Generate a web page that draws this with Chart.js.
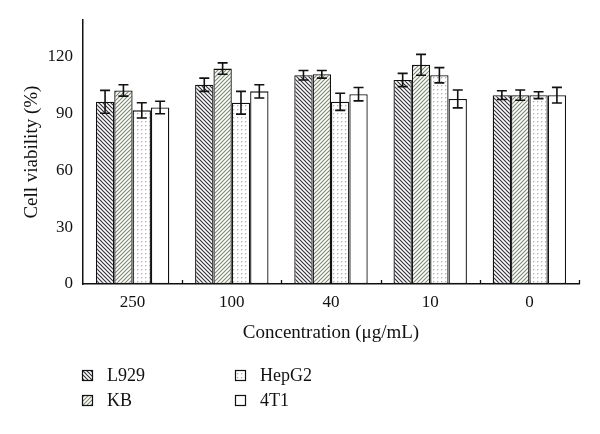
<!DOCTYPE html>
<html lang="en">
<head>
    <meta charset="UTF-8">
    <title>Cell viability</title>
    <script src="https://cdn.jsdelivr.net/npm/chart.js"></script>
    <style>
        body {
            margin: 0;
            background-color: #ffffff;
        }
        #chart {
            display: block;
        }
    </style>
</head>
<body>
    <canvas id="chart" width="600" height="434"></canvas>
    <script>
        // concentrations (ug/mL)
        var categories = ['250', '100', '40', '10', '0'];
        var seriesNames = ['L929', 'KB', 'HepG2', '4T1'];

        var l929 = [96, 105, 110, 107.5, 99.5];
        var kb = [102, 113.5, 110.5, 115.5, 99.5];
        var hepg2 = [91.5, 95.5, 96, 110, 99.5];
        var t41 = [93, 101.5, 100, 97.5, 99.5];

        var l929Err = [6, 3.5, 2.5, 3.5, 2.3];
        var kbErr = [3, 3, 2, 5.5, 2.7];
        var hepg2Err = [4, 6, 4.5, 4, 1.8];
        var t41Err = [3.3, 3.5, 3.5, 4.7, 4.1];

        var yTicks = [0, 30, 60, 90, 120];

        var serif = "'Liberation Serif', 'DejaVu Serif', serif";

        function makePattern(kind) {
            var c = document.createElement('canvas');
            c.width = 4;
            c.height = 4;
            var g = c.getContext('2d');
            g.fillStyle = '#ffffff';
            g.fillRect(0, 0, 4, 4);
            if (kind === 'back') {
                g.strokeStyle = '#37323c';
                g.lineWidth = 1.2;
                g.beginPath();
                g.moveTo(-1, -1); g.lineTo(5, 5);
                g.moveTo(-1, 3); g.lineTo(1, 5);
                g.moveTo(3, -1); g.lineTo(5, 1);
                g.stroke();
            } else if (kind === 'fwd') {
                g.strokeStyle = '#7c8870';
                g.lineWidth = 1.1;
                g.beginPath();
                g.moveTo(-1, 5); g.lineTo(5, -1);
                g.moveTo(-1, 1); g.lineTo(1, -1);
                g.moveTo(3, 5); g.lineTo(5, 3);
                g.stroke();
            } else if (kind === 'dots') {
                g.fillStyle = '#b9aab6';
                g.fillRect(1, 1, 1.3, 1.3);
            }
            return g.createPattern(c, 'repeat');
        }

        var fills = [makePattern('back'), makePattern('fwd'), makePattern('dots'), '#ffffff'];
        var values = [l929, kb, hepg2, t41];
        var errors = [l929Err, kbErr, hepg2Err, t41Err];

        var errorBars = {
            id: 'errorBars',
            afterDatasetsDraw: function (chart) {
                var ctx = chart.ctx;
                var y = chart.scales.y;
                ctx.save();
                ctx.strokeStyle = '#111111';
                ctx.lineWidth = 1.6;
                chart.data.datasets.forEach(function (ds, di) {
                    var meta = chart.getDatasetMeta(di);
                    meta.data.forEach(function (bar, i) {
                        var v = ds.data[i];
                        var e = errors[di][i];
                        var top = y.getPixelForValue(v + e);
                        var bot = y.getPixelForValue(v - e);
                        ctx.beginPath();
                        ctx.moveTo(bar.x, top);
                        ctx.lineTo(bar.x, bot);
                        ctx.moveTo(bar.x - 5, top);
                        ctx.lineTo(bar.x + 5, top);
                        ctx.moveTo(bar.x - 5, bot);
                        ctx.lineTo(bar.x + 5, bot);
                        ctx.stroke();
                    });
                });

                // small inward ticks at the category boundaries
                var x = chart.scales.x;
                var half = (x.getPixelForValue(1) - x.getPixelForValue(0)) / 2;
                var base = y.getPixelForValue(0);
                ctx.lineWidth = 1.3;
                ctx.beginPath();
                for (var i = 0; i < categories.length; i++) {
                    var bx = Math.round(x.getPixelForValue(i) + half) + 0.5;
                    ctx.moveTo(bx, base);
                    ctx.lineTo(bx, base - 4);
                }
                ctx.stroke();
                ctx.restore();
            }
        };

        var legendBlock = {
            id: 'legendBlock',
            afterDraw: function (chart) {
                var ctx = chart.ctx;
                var left = chart.chartArea.left;
                ctx.save();
                ctx.font = '18px ' + serif;
                ctx.textBaseline = 'middle';
                chart.data.datasets.forEach(function (ds, di) {
                    var col = Math.floor(di / 2);
                    var row = di % 2;
                    var bx = left - 1 + col * 153;
                    var by = 376 + row * 25;
                    ctx.fillStyle = ds.backgroundColor;
                    ctx.fillRect(bx, by - 6, 11, 11);
                    ctx.strokeStyle = '#111111';
                    ctx.lineWidth = 1.2;
                    ctx.strokeRect(bx + 0.5, by - 5.5, 10, 10);
                    ctx.fillStyle = '#111111';
                    ctx.fillText(ds.label, bx + 25, by);
                });
                ctx.restore();
            }
        };

        var datasets = seriesNames.map(function (name, i) {
            return {
                label: name,
                data: values[i],
                backgroundColor: fills[i],
                borderColor: '#111111',
                borderWidth: 1.3,
                borderSkipped: false,
                categoryPercentage: 0.74,
                barPercentage: 1.0
            };
        });

        new Chart(document.getElementById('chart').getContext('2d'), {
            type: 'bar',
            data: {
                labels: categories,
                datasets: datasets
            },
            options: {
                responsive: false,
                animation: false,
                devicePixelRatio: 1,
                layout: {
                    padding: { top: 20, right: 21, bottom: 90, left: 21 }
                },
                plugins: {
                    legend: { display: false },
                    tooltip: { enabled: false }
                },
                scales: {
                    x: {
                        z: 1,
                        grid: { display: false, drawTicks: false },
                        border: { display: true, color: '#111111', width: 1.6 },
                        ticks: {
                            color: '#111111',
                            padding: 8,
                            font: { family: serif, size: 17 }
                        },
                        title: {
                            display: true,
                            text: 'Concentration (μg/mL)',
                            color: '#111111',
                            padding: 0,
                            font: { family: serif, size: 19 }
                        },
                        afterFit: function (s) { s.height = 60; }
                    },
                    y: {
                        min: 0,
                        max: 139,
                        grid: { display: false, drawTicks: false },
                        border: { display: true, color: '#111111', width: 1.5 },
                        ticks: {
                            color: '#111111',
                            padding: 10,
                            font: { family: serif, size: 17 }
                        },
                        afterBuildTicks: function (s) {
                            s.ticks = yTicks.map(function (v) { return { value: v }; });
                        },
                        title: {
                            display: true,
                            text: 'Cell viability (%)',
                            color: '#111111',
                            padding: 0,
                            font: { family: serif, size: 19 }
                        },
                        afterFit: function (s) { s.width = 62; }
                    }
                }
            },
            plugins: [errorBars, legendBlock]
        });
    </script>
</body>
</html>
